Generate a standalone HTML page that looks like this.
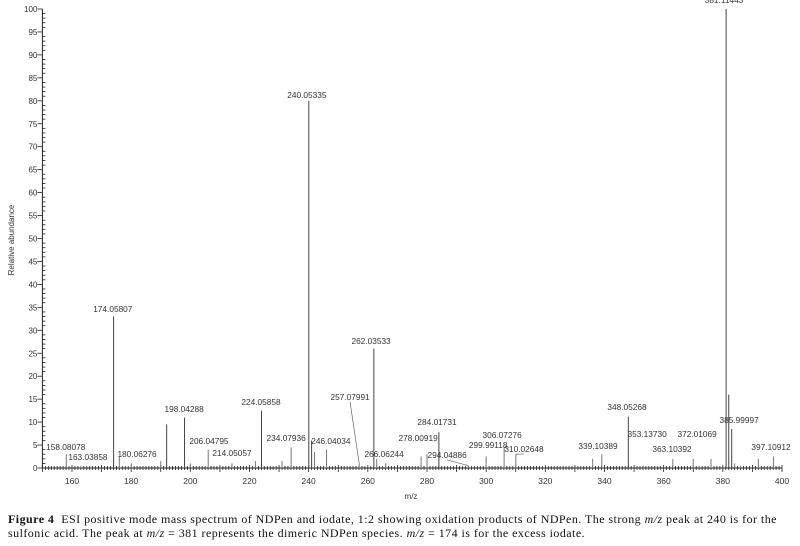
<!DOCTYPE html>
<html><head><meta charset="utf-8"><style>
body{margin:0;background:#fff;width:800px;height:546px;overflow:hidden;font-family:"Liberation Sans",sans-serif}
#cap{position:absolute;left:8px;top:512px;width:786px;font-family:"Liberation Serif",serif;font-size:12px;letter-spacing:0.45px;line-height:14px;color:#111}
</style></head><body>
<svg id="chart" width="800" height="505" style="position:absolute;left:0;top:0" font-family="Liberation Sans, sans-serif"></svg>
<div id="cap"><b>Figure 4</b>&nbsp; ESI positive mode mass spectrum of NDPen and iodate, 1:2 showing oxidation products of NDPen. The strong <i>m/z</i> peak at 240 is for the sulfonic acid. The peak at <i>m/z</i> = 381 represents the dimeric NDPen species. <i>m/z</i> = 174 is for the excess iodate.</div>
<script>
const peakMz=[158.08,163.04,174.06,176,180.06,190,192,198.04,200,206.05,214.06,222,224.06,231,234.08,240.05,241,242,246.04,257.08,262.04,263,266.06,278.01,280,284.02,294.05,299.99,306.07,310.03,336,339.10,348.05,353.14,363.10,370,372.01,376,381.11,382,383,384,386,392,397.11];
const peakInt=[3,0.5,33,2.5,1,1.5,9.5,11,1,4,1,1.5,12.5,1.5,4.5,80,6,3.5,4,1,26,2,1,2.5,3,7.8,0.5,2.5,4.5,3,2,3,11.2,0.5,2,2,0.5,2,100,16,8.5,1,0.5,2,2.5];
const labText=["158.08078","163.03858","174.05807","180.06276","198.04288","206.04795","214.05057","224.05858","234.07936","240.05335","246.04034","257.07991","262.03533","266.06244","278.00919","284.01731","294.04886","299.99118","306.07276","310.02648","339.10389","348.05268","353.13730","363.10392","372.01069","381.11443","385.99997","397.10912"];
const labPeakMz=[158.08,163.04,174.06,180.06,198.04,206.05,214.06,224.06,234.08,240.05,246.04,257.08,262.04,266.06,278.01,284.02,294.05,299.99,306.07,310.03,339.10,348.05,353.14,363.10,372.01,381.11,386,397.11];
const labPeakInt=[3,0.5,33,1,11,4,1,12.5,4.5,80,4,1,26,1,2.5,7.8,0.5,2.5,4.5,3,3,11.2,0.5,2,0.5,100,0.5,2.5];
const labMz=[157.9,165.4,173.8,182.0,197.9,206.3,214.1,223.9,232.4,239.4,247.5,254.0,261.1,265.5,277.0,283.4,286.8,300.7,305.4,312.8,337.8,347.6,354.4,362.8,371.3,380.4,385.5,396.3];
const labInt=[3.9,1.7,34,2.4,12.2,5.2,2.6,13.7,5.9,80.6,5.2,14.8,27,2.4,5.9,9.4,2.2,4.4,6.5,3.5,4.1,12.6,6.8,3.5,6.8,101.3,9.8,3.9];
const xTicks=[160,180,200,220,240,260,280,300,320,340,360,380,400];
const yTicks=[0,5,10,15,20,25,30,35,40,45,50,55,60,65,70,75,80,85,90,95,100];
const X0=42.4,X1=782,Y0=468,Y1=9,xmin=150,xmax=400;
const sx=v=>X0+(v-xmin)*(X1-X0)/(xmax-xmin);
const sy=v=>Y0-(v)*(Y0-Y1)/100;
const svg=document.getElementById('chart');const NS='http://www.w3.org/2000/svg';
function mk(t,a,p){const e=document.createElementNS(NS,t);for(const k in a)e.setAttribute(k,a[k]);(p||svg).appendChild(e);return e;}
let e;
e=mk('line',{x1:X0,y1:Y0,x2:X1,y2:Y0,stroke:'#222','stroke-width':1});


e=mk('line',{x1:X0,y1:Y0,x2:X0,y2:Y1,stroke:'#222','stroke-width':1});


for(let v=xmin;v<=xmax;v++){const maj=v%10==0;mk('line',{x1:sx(v),y1:Y0-(maj?3:2),x2:sx(v),y2:Y0+(maj?4:2),stroke:'#222','stroke-width':0.8});}
xTicks.forEach(v=>{e=mk('text',{x:sx(v),y:484,'font-size':8.5,'text-anchor':'middle',fill:'#333'});e.textContent=v;

});
for(let v=0;v<=100;v++){const maj=v%5==0;mk('line',{x1:X0-(maj?5:0),y1:sy(v),x2:X0+(maj?0:3),y2:sy(v),stroke:'#222','stroke-width':0.8});}
yTicks.forEach(v=>{e=mk('text',{x:X0-5,y:sy(v)+3,'font-size':8,'text-anchor':'end',fill:'#333'});e.textContent=v;

});
e=mk('text',{x:14,y:240,'font-size':8,'text-anchor':'middle',fill:'#333',transform:'rotate(-90 14 240)'});e.textContent='Relative abundance';


e=mk('text',{x:411,y:499,'font-size':8,'text-anchor':'middle',fill:'#333'});e.textContent='m/z';


peakMz.forEach((m,i)=>{e=mk('line',{x1:sx(m),y1:Y0,x2:sx(m),y2:sy(peakInt[i]),stroke:peakInt[i]>5?'#444':'#777','stroke-width':1});

});
labText.forEach((t,i)=>{const lx=sx(labMz[i]),ly=sy(labInt[i]);const px=sx(labPeakMz[i]),py=sy(labPeakInt[i]);
if(Math.abs(lx-px)>8){mk('line',{x1:px,y1:py,x2:lx,y2:ly+2,stroke:'#666','stroke-width':0.7});}
e=mk('text',{x:lx,y:ly,'font-size':8.3,'text-anchor':'middle',fill:'#333'});e.textContent=t;

});
</script>
</body></html>
